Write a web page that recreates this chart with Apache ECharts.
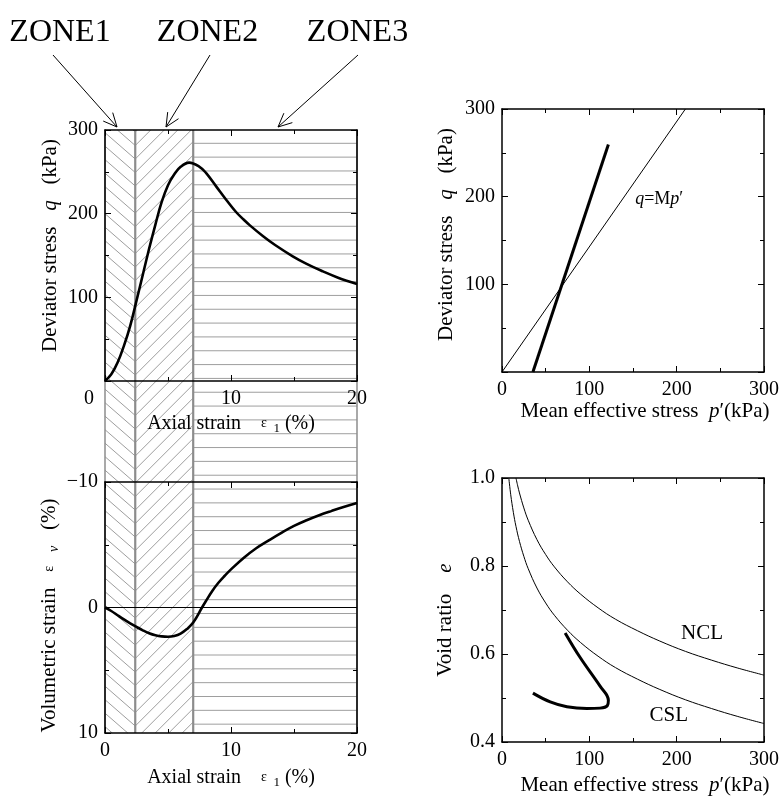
<!DOCTYPE html>
<html><head><meta charset="utf-8">
<script src="https://cdn.jsdelivr.net/npm/echarts@6/dist/echarts.min.js"></script>
<style>html,body{margin:0;padding:0;background:#fff}#c{width:783px;height:797px}</style>
</head><body><div id="c"></div>
<script>
// ---------------- data ----------------
// zones along axial strain (%)
const zoneStart = [0, 2.4, 7];
const zoneEnd   = [2.4, 7, 20];
const zoneNames = ['ZONE1', 'ZONE2', 'ZONE3'];
// deviator stress q (kPa) vs axial strain (%)
const strainQ = [0, 0.5, 1, 1.5, 2, 2.5, 3, 3.5, 4, 4.5, 5, 5.5, 6, 6.68, 7.5, 8, 8.85, 9.6, 10.4, 11, 11.5, 12.55, 13.5, 14.9, 16, 17.3, 18.5, 20];
const qValues = [0, 8, 22, 42, 66, 96, 127, 158, 187, 214, 234, 247, 256, 261, 256, 249, 232, 217, 202, 193, 186, 173, 162.5, 149, 140, 131, 123.5, 116];
// volumetric strain (%) vs axial strain (%)
const strainV = [0, 0.5, 1, 1.5, 2, 2.5, 3, 3.5, 4, 4.5, 5, 5.5, 6, 6.5, 7, 7.7, 8, 8.5, 9, 9.5, 10, 11, 12, 13, 14, 15, 16, 17, 18, 19, 20];
const evValues = [0, 0.28, 0.62, 0.95, 1.26, 1.55, 1.82, 2.05, 2.21, 2.3, 2.33, 2.27, 2.08, 1.72, 1.2, 0, -0.5, -1.3, -1.97, -2.53, -3.04, -3.95, -4.72, -5.35, -5.95, -6.5, -6.95, -7.35, -7.7, -8.03, -8.33];
// effective stress path p'-q (kPa)
const pathP = [35.4, 121.8];
const pathQ = [0, 259.4];
// critical state line q = M p'
const mLineP = [0, 210];
const mLineQ = [0, 300];
// NCL in e - p'
const nclP = [16, 18, 20, 25, 30, 40, 50, 60, 75, 90, 110, 130, 155, 180, 210, 240, 270, 300];
const nclE = [1.0, 0.982, 0.966, 0.932, 0.904, 0.86, 0.826, 0.798, 0.764, 0.736, 0.705, 0.679, 0.653, 0.63, 0.606, 0.586, 0.568, 0.552];
// CSL in e - p'
const cslP = [7.8, 10, 13, 16, 20, 25, 30, 40, 50, 60, 75, 90, 110, 130, 155, 180, 210, 240, 270, 300];
const cslE = [1.0, 0.962, 0.922, 0.89, 0.856, 0.822, 0.794, 0.75, 0.716, 0.688, 0.654, 0.626, 0.595, 0.569, 0.543, 0.52, 0.496, 0.476, 0.458, 0.442];
// e - p' path of the test
const ePathP = [35.4, 55.2, 74.3, 97.1, 112.3, 120.7, 121.8, 112.3, 89.5, 72.3];
const ePathE = [0.511, 0.491, 0.48, 0.476, 0.477, 0.483, 0.495, 0.527, 0.592, 0.648];

// ---------------- chart ----------------
const FONT = '"Liberation Serif","Times New Roman",serif';
const zip = (a, b) => a.map((v, i) => [v, b[i]]);
const rich = {
  t: {fontFamily: FONT, fontSize: 21, color: '#000'},
  tp: {fontFamily: FONT, fontSize: 21, color: '#000', padding: [0, 0, 0, 24]},
  tl20: {fontFamily: FONT, fontSize: 21, color: '#000', padding: [0, 0, 0, 20]},
  tl12: {fontFamily: FONT, fontSize: 21, color: '#000', padding: [0, 0, 0, 12]},
  tr16: {fontFamily: FONT, fontSize: 21, color: '#000', padding: [0, 16, 0, 0]},
  ir20: {fontFamily: FONT, fontSize: 21, fontStyle: 'italic', color: '#000', padding: [0, 20, 0, 0]},
  a: {fontFamily: FONT, fontSize: 20, color: '#000'},
  i: {fontFamily: FONT, fontSize: 21, fontStyle: 'italic', color: '#000'},
  g: {fontFamily: FONT, fontSize: 14, color: '#000'},
  s: {fontFamily: FONT, fontSize: 13, color: '#000', padding: [10, 0, 0, 0]},
  si: {fontFamily: FONT, fontSize: 14, fontStyle: 'italic', color: '#000', padding: [10, 0, 0, 0]},
  z: {fontFamily: FONT, fontSize: 20, color: '#000', padding: [0, 32, 0, 0]},
  lt: {fontFamily: FONT, fontSize: 21, color: '#000'},
  mi: {fontFamily: FONT, fontSize: 18, fontStyle: 'italic', color: '#000'},
  mt: {fontFamily: FONT, fontSize: 18, color: '#000'}
};

function axis(gi, pos, min, max, interval, o) {
  o = o || {};
  const main = (pos === 'bottom' || pos === 'left');
  return Object.assign({
    type: 'value', gridIndex: gi, position: pos, min: min, max: max, interval: interval,
    z: 5,
    axisLine: {show: true, onZero: false, lineStyle: {color: '#000', width: 1.5}},
    axisTick: {show: true, inside: true, length: 6, lineStyle: {color: '#000', width: 1}},
    minorTick: {show: true, splitNumber: 2, length: 4, lineStyle: {color: '#000', width: 1}},
    splitLine: {show: false}, minorSplitLine: {show: false},
    axisLabel: {show: main, fontFamily: FONT, fontSize: 20, color: '#000', margin: 8,
      showMinLabel: true, showMaxLabel: true, hideOverlap: false, rich: rich},
    nameLocation: 'middle', nameTextStyle: {rich: rich}
  }, o);
}

const grids = [
  {left: 105, top: 130, width: 252, height: 251},
  {left: 105, top: 482, width: 252, height: 251},
  {left: 502, top: 109, width: 262, height: 263},
  {left: 502, top: 478, width: 262, height: 264},
  {left: 105, top: 130, width: 252, height: 603}
].map(g => Object.assign({containLabel: false, outerBoundsMode: 'none', show: false}, g));

const axialName = '{a|Axial strain    }{g|ε}{s|  1}{a| (%)}';
const meanName = '{tp|Mean effective stress  }{i|p}{t|′(kPa)}';

const xAxis = [
  axis(0, 'bottom', 0, 20, 10, {name: axialName, nameGap: 31,
    axisLabel: Object.assign({}, axis(0,'bottom',0,20,10).axisLabel, {formatter: v => v === 0 ? '{z|0}' : String(v)})}),
  axis(0, 'top', 0, 20, 10),
  axis(1, 'bottom', 0, 20, 10, {name: axialName, nameGap: 33}),
  axis(1, 'top', 0, 20, 10),
  axis(2, 'bottom', 0, 300, 100, {name: meanName, nameGap: 29}),
  axis(2, 'top', 0, 300, 100),
  axis(3, 'bottom', 0, 300, 100, {name: meanName, nameGap: 33}),
  axis(3, 'top', 0, 300, 100),
  {type: 'value', gridIndex: 4, min: 0, max: 20, show: false}
];
const lab = (f) => ({show: true, fontFamily: FONT, fontSize: 20, color: '#000', margin: 7,
  showMinLabel: true, showMaxLabel: true, hideOverlap: false, formatter: f, rich: rich});
const yAxis = [
  axis(0, 'left', 0, 300, 100, {name: '{tl20|Deviator stress   }{i|q}{t|   (kPa)}', nameGap: 44, nameRotate: 90,
    axisLabel: lab(v => v === 0 ? '' : String(v))}),
  axis(0, 'right', 0, 300, 100),
  axis(1, 'left', -10, 10, 10, {inverse: true, name: '{t|Volumetric strain   }{g|ε}{g|    }{si|ν}{tr16|   (%)}', nameGap: 44, nameRotate: 90,
    axisLabel: lab(v => v < 0 ? '\u2212' + Math.abs(v) : String(v))}),
  axis(1, 'right', -10, 10, 10, {inverse: true}),
  axis(2, 'left', 0, 300, 100, {name: '{tl12|Deviator stress   }{i|q}{t|   (kPa)}', nameGap: 45, nameRotate: 90,
    axisLabel: lab(v => v === 0 ? '' : String(v))}),
  axis(2, 'right', 0, 300, 100),
  axis(3, 'left', 0.4, 1.0, 0.2, {name: '{t|Void ratio    }{ir20|e}', nameGap: 46, nameRotate: 90,
    axisLabel: lab(v => v.toFixed(1))}),
  axis(3, 'right', 0.4, 1.0, 0.2),
  {type: 'value', gridIndex: 4, min: 0, max: 1, show: false}
];

function clipY(x1, y1, x2, y2, T, B) {
  let t0 = 0, t1 = 1; const dy = y2 - y1;
  if (Math.abs(dy) < 1e-9) { if (y1 < T || y1 > B) return null; }
  else {
    let ta = (T - y1) / dy, tb = (B - y1) / dy;
    if (ta > tb) { const tmp = ta; ta = tb; tb = tmp; }
    t0 = Math.max(t0, ta); t1 = Math.min(t1, tb);
    if (t0 >= t1) return null;
  }
  return [x1 + (x2 - x1) * t0, y1 + dy * t0, x1 + (x2 - x1) * t1, y1 + dy * t1];
}

function hatchItem(params, api) {
  const a = api.coord([api.value(0), 1]), b = api.coord([api.value(1), 0]);
  const L = a[0], T = a[1], R = b[0], B = b[1];
  const kind = api.value(2);
  const xb = api.coord([zoneEnd[0], 0])[0];
  const st = {stroke: '#9e9e9e', lineWidth: 1};
  const ch = [];
  if (kind === 2) {
    for (let y = T + 13.3; y < B - 2; y += 13.83) ch.push({type: 'line', shape: {x1: L, y1: y, x2: R, y2: y}, style: st});
  } else {
    const s = kind === 0 ? 0.87 : -1.0, sp = 13.5;
    for (let k = -80; k < 80; k++) {
      const c = T + 2 + k * sp;
      const r = clipY(L, c + s * (L - xb), R, c + s * (R - xb), T, B);
      if (r) ch.push({type: 'line', shape: {x1: r[0], y1: r[1], x2: r[2], y2: r[3]}, style: st});
    }
  }
  const edge = {stroke: '#8c8c8c', lineWidth: kind === 0 ? 1.5 : 2.2};
  ch.push({type: 'line', shape: {x1: L, y1: T, x2: L, y2: B}, style: edge});
  if (kind === 2) ch.push({type: 'line', shape: {x1: R, y1: T, x2: R, y2: B}, style: {stroke: '#8c8c8c', lineWidth: 1.5}});
  return {type: 'group', children: ch};
}

const thick = {color: '#000', width: 2.6};
const thin = {color: '#000', width: 1};
const series = [
  {type: 'custom', xAxisIndex: 8, yAxisIndex: 8, z: 1, silent: true,
    data: zoneStart.map((s, i) => [s, zoneEnd[i], i]), renderItem: hatchItem},
  {type: 'line', xAxisIndex: 0, yAxisIndex: 0, z: 4, data: zip(strainQ, qValues), symbol: 'none', smooth: 0.4, lineStyle: thick},
  {type: 'line', xAxisIndex: 2, yAxisIndex: 2, z: 4, data: zip(strainV, evValues), symbol: 'none', smooth: 0.4, lineStyle: thick,
    markLine: {silent: true, symbol: 'none', label: {show: false}, lineStyle: {color: '#000', width: 1, type: 'solid'}, data: [{yAxis: 0}]}},
  {type: 'line', xAxisIndex: 4, yAxisIndex: 4, z: 3, data: zip(mLineP, mLineQ), symbol: 'none', lineStyle: thin,
    markPoint: {symbol: 'circle', symbolSize: 0, silent: true,
      label: {show: true, position: 'inside', formatter: '{mi|q}{mt|=M}{mi|p}{mt|′}', rich: rich},
      data: [{coord: [180, 197]}]}},
  {type: 'line', xAxisIndex: 4, yAxisIndex: 4, z: 4, data: zip(pathP, pathQ), symbol: 'none', lineStyle: {color: '#000', width: 3}},
  {type: 'line', xAxisIndex: 6, yAxisIndex: 6, z: 3, data: zip(nclP, nclE), symbol: 'none', smooth: 0.4, lineStyle: thin,
    markPoint: {symbol: 'circle', symbolSize: 0, silent: true,
      label: {show: true, position: 'inside', formatter: '{lt|NCL}', rich: rich}, data: [{coord: [229, 0.647]}]}},
  {type: 'line', xAxisIndex: 6, yAxisIndex: 6, z: 3, data: zip(cslP, cslE), symbol: 'none', smooth: 0.4, lineStyle: thin,
    markPoint: {symbol: 'circle', symbolSize: 0, silent: true,
      label: {show: true, position: 'inside', formatter: '{lt|CSL}', rich: rich}, data: [{coord: [191, 0.461]}]}},
  {type: 'line', xAxisIndex: 6, yAxisIndex: 6, z: 4, data: zip(ePathP, ePathE), symbol: 'none', smooth: 0.4, lineStyle: {color: '#000', width: 3}}
];

// zone annotations (label + arrow)
const labelPos = [[60, 32.5], [207.5, 32.5], [357.5, 32.5]];
const arrowFrom = [[53, 55], [210, 55], [358, 55]];
const arrowTo = [[117, 127], [166, 127], [278, 127]];
const graphic = [];
zoneNames.forEach((n, i) => {
  graphic.push({type: 'text', silent: true, style: {text: n, x: labelPos[i][0], y: labelPos[i][1],
    font: '32px ' + FONT, fill: '#000', align: 'center', verticalAlign: 'middle', textAlign: 'center', textVerticalAlign: 'middle'}});
  const f = arrowFrom[i], t = arrowTo[i];
  const dx = t[0] - f[0], dy = t[1] - f[1], len = Math.hypot(dx, dy);
  const ux = dx / len, uy = dy / len, hl = 15, ang = 25 * Math.PI / 180;
  const rot = (x, y, a) => [x * Math.cos(a) - y * Math.sin(a), x * Math.sin(a) + y * Math.cos(a)];
  const a1 = rot(-ux, -uy, ang), a2 = rot(-ux, -uy, -ang);
  graphic.push({type: 'line', silent: true, shape: {x1: f[0], y1: f[1], x2: t[0], y2: t[1]}, style: {stroke: '#000', lineWidth: 1}});
  graphic.push({type: 'polyline', silent: true, shape: {points: [[t[0] + a1[0] * hl, t[1] + a1[1] * hl], t, [t[0] + a2[0] * hl, t[1] + a2[1] * hl]]},
    style: {stroke: '#000', lineWidth: 1, fill: null}});
});

const chart = echarts.init(document.getElementById('c'), null, {renderer: 'canvas'});
chart.setOption({
  animation: false, backgroundColor: '#fff',
  grid: grids, xAxis: xAxis, yAxis: yAxis, series: series, graphic: graphic
});
</script>
</body></html>
